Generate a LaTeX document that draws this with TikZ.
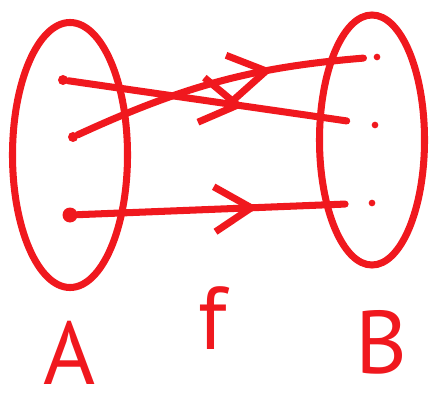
\documentclass[tikz,border=0pt]{standalone}
\usepackage{fontspec}
\setsansfont{PT Sans}
\usepackage{tikz}
\usetikzlibrary{
	positioning,
	arrows.meta,
	shapes.geometric,
	decorations.markings
}
\definecolor{MarkerRed}{RGB}{240,24,30}

\begin{document}
\begin{tikzpicture}[
	x=0.03cm, y=-0.03cm,
	setring/.style={draw=MarkerRed, line width=6pt, ellipse, inner sep=0pt},
	elemdot/.style={circle, fill=MarkerRed, inner sep=0pt, minimum size=#1},
	mapto/.style={
		draw=MarkerRed, line width=6pt, line cap=round,
		postaction={decorate},
		decoration={markings, mark=at position #1 with {\arrow[line width=6pt, line cap=round]{Straight Barb[length=1.1cm 0, width=1.35cm 0]}}}
	},
	setname/.style={text=MarkerRed, inner sep=0pt, font=\sffamily\fontsize{76}{76}\selectfont}
	]
	
	\useasboundingbox (0,0) rectangle (430,400);
	
	% the two sets
	\node[
	setring,
	minimum width=3.45cm,
	minimum height=7.95cm
	] (A) at (70,155) {};
	
	\node[
	setring,
	minimum width=3.15cm,
	minimum height=7.5cm
	] (B) at (372,140) {};
	
	% elements
	\node[elemdot=0.3cm] (a1) at (63,80) {};
	\node[elemdot=0.3cm] (a2) at (73,137) {};
	\node[elemdot=0.45cm] (a3) at (70,215) {};
	
	\node[elemdot=0.2cm] (b1) at (377,57) {};
	\node[elemdot=0.2cm] (b2) at (375,125) {};
	\node[elemdot=0.2cm] (b3) at (372,203) {};
	
	% the map f
	\draw[mapto=0.58, shorten >=0.75cm] (a1) -- (b2);
	\draw[mapto=0.67, shorten >=0.3cm] (a2) to[bend left=10] (b1);
	\draw[mapto=0.62, shorten >=0.7cm] (a3) -- (b3);
	
	% names
	\node[setname, below=0.9cm of A] (nameA) {A};
	\node[setname, below=1.25cm of B, xshift=0.27cm] (nameB) {B};
	\node[setname] (nameF) at (213,318) {f};
	
\end{tikzpicture}
\end{document}
